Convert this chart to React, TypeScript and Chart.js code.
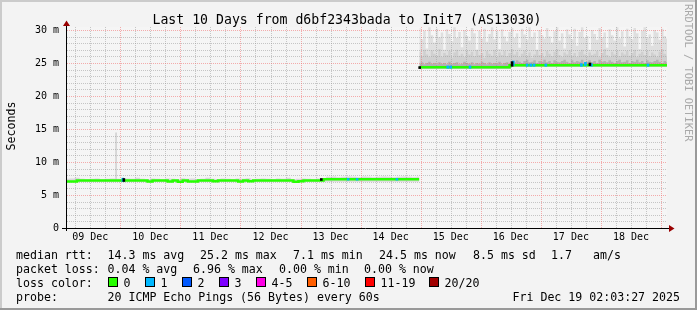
import React, { useEffect, useRef } from "react";
import { Chart, registerables } from "chart.js";

Chart.register(...registerables);

const FONT = '"DejaVu Sans Mono", "Liberation Mono", monospace';

// ---- time grid (hours since 09 Dec 00:00) ----
const X_MIN_H = 2.7;
const X_MAX_H = 242.4;
const EARLY_START_H = 2.7;
const EARLY_STEP_H = 2.01;
const LATE_START_H = 143.5;
const LATE_STEP_H = 1;

// ---- early period (09 Dec – 14 Dec), median rtt in ms ----
const earlyMedian = [
  7.2, 7.05, 7.05, 7.2, 7.2, 7.2, 7.2, 7.2, 7.2, 7.2,
  7.2, 7.2, 7.2, 7.2, 7.2, 7.2, 7.2, 7.05, 7.2, 7.2,
  7.2, 7.05, 7.2, 7.0, 7.2, 7.05, 7.05, 7.2, 7.2, 7.2,
  7.1, 7.2, 7.2, 7.2, 7.2, 7.05, 7.2, 7.1, 7.2, 7.2,
  7.2, 7.2, 7.2, 7.2, 7.2, 7.2, 7.0, 7.1, 7.2, 7.2,
  7.2, 7.2, 7.38, 7.38, 7.38, 7.38, 7.38, 7.38, 7.38, 7.38,
  7.38, 7.38, 7.38, 7.38, 7.38, 7.38, 7.38, 7.38, 7.38, 7.38,
  7.38,
];
const earlySmokeMax = [
  7.45, 7.5, 7.6, 7.45, 7.4, 7.45, 7.5, 7.4, 7.45, 7.5,
  7.45, 7.4, 7.5, 7.45, 7.6, 7.45, 7.4, 7.5, 7.45, 7.4,
  7.5, 7.45, 7.4, 7.55, 7.45, 7.5, 7.4, 7.45, 7.6, 7.45,
  7.4, 7.5, 7.45, 7.4, 7.5, 7.45, 7.55, 7.4, 7.45, 7.5,
  7.45, 7.4, 7.5, 7.45, 7.6, 7.4, 7.45, 7.5, 7.45, 7.4,
  7.5, 7.45, 7.75, 7.8, 7.7, 7.75, 7.8, 7.75, 7.7, 7.8,
  7.75, 7.7, 7.75, 7.8, 7.75, 7.7, 7.75, 7.8, 7.75, 7.7,
  7.75,
];

// ---- late period (14 Dec 23:30 – 19 Dec), ms ----
const lateMedian = [
  24.35, 24.35, 24.35, 24.35, 24.35, 24.35, 24.35, 24.35, 24.35, 24.35,
  24.35, 24.35, 24.35, 24.35, 24.35, 24.35, 24.35, 24.35, 24.35, 24.35,
  24.35, 24.35, 24.35, 24.35, 24.35, 24.35, 24.35, 24.35, 24.35, 24.35,
  24.35, 24.35, 24.35, 24.35, 24.35, 24.35, 24.35, 24.65, 24.65, 24.65,
  24.65, 24.65, 24.65, 24.65, 24.65, 24.65, 24.65, 24.65, 24.65, 24.65,
  24.65, 24.65, 24.65, 24.65, 24.65, 24.65, 24.65, 24.65, 24.65, 24.65,
  24.65, 24.65, 24.65, 24.65, 24.65, 24.65, 24.65, 24.65, 24.65, 24.65,
  24.65, 24.65, 24.65, 24.65, 24.65, 24.65, 24.65, 24.65, 24.65, 24.65,
  24.65, 24.65, 24.65, 24.65, 24.65, 24.65, 24.65, 24.65, 24.65, 24.65,
  24.65, 24.65, 24.65, 24.65, 24.65, 24.65, 24.65, 24.65, 24.65, 24.65,
];
const lateSmokeMin = [
  24.15, 24.15, 24.15, 24.15, 24.15, 24.15, 24.15, 24.15, 24.15, 24.15,
  24.15, 24.15, 24.15, 24.15, 24.15, 24.15, 24.15, 24.15, 24.15, 24.15,
  24.15, 24.15, 24.15, 24.15, 24.15, 24.15, 24.15, 24.15, 24.15, 24.15,
  24.15, 24.15, 24.15, 24.15, 24.15, 24.15, 24.15, 24.45, 24.45, 24.45,
  24.45, 24.45, 24.45, 24.45, 24.45, 24.45, 24.45, 24.45, 24.45, 24.45,
  24.45, 24.45, 24.45, 24.45, 24.45, 24.45, 24.45, 24.45, 24.45, 24.45,
  24.45, 24.45, 24.45, 24.45, 24.45, 24.45, 24.45, 24.45, 24.45, 24.45,
  24.45, 24.45, 24.45, 24.45, 24.45, 24.45, 24.45, 24.45, 24.45, 24.45,
  24.45, 24.45, 24.45, 24.45, 24.45, 24.45, 24.45, 24.45, 24.45, 24.45,
  24.45, 24.45, 24.45, 24.45, 24.45, 24.45, 24.45, 24.45, 24.45, 24.45,
];
const lateSmokeOuter = [
  30.3, 28.6, 29.9, 27.2, 30.4, 29.2, 28.1, 30.2, 28.9, 29.6,
  27.0, 30.1, 29.4, 28.3, 30.4, 28.8, 29.7, 27.4, 30.0, 29.1,
  28.4, 30.3, 29.5, 26.9, 29.9, 28.7, 30.2, 28.2, 29.4, 30.4,
  28.6, 29.8, 27.1, 30.1, 29.0, 28.3, 29.7, 30.3, 28.8, 29.5,
  27.3, 30.2, 29.3, 28.5, 30.4, 28.9, 29.6, 26.8, 30.0, 29.2,
  28.7, 30.3, 29.0, 28.1, 29.8, 30.4, 28.4, 29.5, 27.2, 30.1,
  29.3, 28.6, 30.2, 27.6, 29.7, 30.4, 28.8, 29.1, 27.0, 30.0,
  29.4, 28.5, 30.3, 28.9, 29.6, 27.3, 30.1, 29.2, 28.4, 30.4,
  28.7, 29.8, 27.5, 30.2, 29.0, 28.6, 30.3, 29.5, 27.1, 29.9,
  30.4, 28.8, 29.3, 27.6, 30.0, 29.6, 28.5, 30.2, 29.1, 28.7,
];
const lateSmokeMid = [
  26.7, 26.0, 27.0, 26.3, 25.9, 26.9, 26.4, 26.1, 27.1, 25.9,
  26.5, 26.2, 26.8, 25.8, 26.6, 27.0, 26.1, 26.4, 25.9, 26.9,
  26.3, 26.7, 26.0, 27.0, 26.2, 26.5, 25.8, 26.8, 26.4, 26.1,
  27.0, 25.9, 26.6, 26.2, 26.8, 26.0, 26.5, 27.1, 26.3, 26.7,
  25.9, 26.4, 26.9, 26.1, 26.6, 25.8, 26.3, 27.0, 26.2, 26.5,
  25.9, 26.8, 26.4, 26.0, 26.7, 27.1, 26.2, 25.9, 26.6, 26.3,
  26.9, 26.1, 26.5, 25.9, 26.7, 27.0, 26.3, 26.0, 26.6, 26.2,
  26.4, 26.8, 25.9, 26.5, 27.1, 26.2, 25.9, 26.7, 26.3, 26.9,
  26.0, 26.6, 26.3, 26.8, 26.1, 26.5, 27.0, 25.9, 26.4, 26.7,
  26.2, 26.9, 26.0, 26.6, 26.3, 25.9, 26.7, 27.1, 26.4, 26.1,
];
const lateSmokeInner = [
  24.9, 25.1, 24.8, 25.0, 25.2, 24.9, 25.0, 24.8, 25.1, 24.9,
  25.0, 24.8, 25.2, 24.9, 25.0, 25.1, 24.8, 24.9, 25.2, 25.0,
  24.9, 25.1, 24.8, 25.0, 24.9, 25.2, 25.0, 24.8, 25.1, 24.9,
  25.0, 24.9, 25.2, 24.8, 25.0, 25.1, 24.9, 25.3, 25.1, 25.4,
  25.2, 25.0, 25.3, 25.5, 25.1, 25.2, 25.4, 25.0, 25.3, 25.2,
  25.5, 25.1, 25.3, 25.0, 25.4, 25.2, 25.1, 25.3, 25.5, 25.2,
  25.0, 25.4, 25.1, 25.3, 25.2, 25.5, 25.0, 25.2, 25.4, 25.1,
  25.3, 25.0, 25.5, 25.2, 25.3, 25.1, 25.4, 25.2, 25.0, 25.3,
  25.5, 25.1, 25.2, 25.4, 25.0, 25.3, 25.2, 25.5, 25.1, 25.3,
  25.0, 25.4, 25.2, 25.1, 25.3, 25.5, 25.2, 25.0, 25.3, 25.1,
];

// single-sample outlier
const spikeHours = [22.3];
const spikeLow = [7.35];
const spikeHigh = [14.4];

// samples with packet loss (median coloured by loss count)
const lossHours = [25.0, 115.0, 118.6, 134.5, 154.8, 156.0, 163.7, 181.0, 186.5, 188.0, 189.3, 194.0, 208.2, 209.8, 212.2, 234.8];
const lossCounts = [1, 1, 1, 1, 1, 1, 1, 1, 1, 1, 1, 1, 1, 1, 1, 1];
const lossLow = [7.05, 7.25, 7.25, 7.25, 24.2, 24.2, 24.2, 24.6, 24.5, 24.5, 24.5, 24.5, 24.5, 24.6, 24.5, 24.5];
const lossHigh = [7.55, 7.5, 7.5, 7.5, 24.55, 24.55, 24.55, 25.3, 24.85, 24.85, 24.85, 24.85, 24.9, 25.1, 24.9, 24.85];

// dark step markers
const stepHours = [25.4, 104.3, 143.6, 180.5, 211.6];
const stepLow = [7.05, 7.2, 24.15, 24.5, 24.6];
const stepHigh = [7.5, 7.5, 24.45, 25.2, 25.0];

// ---- axes ----
const xTickHours = [12, 36, 60, 84, 108, 132, 156, 180, 204, 228];
const xTickLabels = ["09 Dec", "10 Dec", "11 Dec", "12 Dec", "13 Dec", "14 Dec", "15 Dec", "16 Dec", "17 Dec", "18 Dec"];
const yTickValues = [0, 5, 10, 15, 20, 25, 30];
const yTickLabels = ["0", "5 m", "10 m", "15 m", "20 m", "25 m", "30 m"];
const Y_MAX = 30.45;

// ---- texts ----
const chartTitle = "Last 10 Days from d6bf2343bada to Init7 (AS13030)";
const yAxisTitle = "Seconds";
const watermark = "RRDTOOL / TOBI OETIKER";
const medianRttLabel = "median rtt:";
const medianRttStats = ["14.3 ms avg", "25.2 ms max", "7.1 ms min", "24.5 ms now", "8.5 ms sd", "1.7", "am/s"];
const packetLossLabel = "packet loss:";
const packetLossStats = ["0.04 % avg", "6.96 % max", "0.00 % min", "0.00 % now"];
const lossColorLabel = "loss color:";
const lossLegendLabels = ["0", "1", "2", "3", "4-5", "6-10", "11-19", "20/20"];
const lossLegendColors = ["#26ff00", "#00b8ff", "#0059ff", "#7e00ff", "#ff00e6", "#ff5e00", "#ff0000", "#a10000"];
const probeLabel = "probe:";
const probeText = "20 ICMP Echo Pings (56 Bytes) every 60s";
const dateText = "Fri Dec 19 02:03:27 2025";

function lossColorIndex(count: number): number {
  if (count <= 3) return count;
  if (count <= 5) return 4;
  if (count <= 10) return 5;
  if (count <= 19) return 6;
  return 7;
}

const GRID_AFTER_INDEX = 5;

const backgroundPlugin = {
  id: "rrdBackground",
  beforeDraw(chart: any) {
    const { ctx, chartArea: a, width, height } = chart;
    ctx.save();
    ctx.fillStyle = "#f3f3f3";
    ctx.fillRect(0, 0, width, height);
    ctx.fillStyle = "#f5f5f5";
    ctx.fillRect(a.left, a.top, a.right - a.left, a.bottom - a.top);
    ctx.fillStyle = "#cbcbcb";
    ctx.fillRect(0, 0, width, 2);
    ctx.fillRect(0, 0, 2, height);
    ctx.fillStyle = "#999999";
    ctx.fillRect(0, height - 2, width, 2);
    ctx.fillRect(width - 2, 0, 2, height);
    ctx.restore();
  },
};

function drawGrid(chart: any) {
  const { ctx, chartArea: a } = chart;
  const xs = chart.scales.x;
  const ys = chart.scales.y;
  ctx.save();
  ctx.lineWidth = 1;
  ctx.setLineDash([1, 1]);
  const vline = (h: number) => {
    const px = Math.round(xs.getPixelForValue(h)) + 0.5;
    if (px <= a.left || px >= a.right) return;
    ctx.beginPath();
    ctx.moveTo(px, a.top);
    ctx.lineTo(px, a.bottom);
    ctx.stroke();
  };
  const hline = (v: number) => {
    const py = Math.round(ys.getPixelForValue(v)) + 0.5;
    ctx.beginPath();
    ctx.moveTo(a.left, py);
    ctx.lineTo(a.right, py);
    ctx.stroke();
  };
  ctx.strokeStyle = "rgba(150,150,150,0.5)";
  for (let h = 6; h < X_MAX_H; h += 6) if (h % 24 !== 0) vline(h);
  for (let v = 1; v <= 30; v++) if (v % 5 !== 0) hline(v);
  ctx.strokeStyle = "rgba(240,110,110,0.55)";
  for (let h = 24; h < X_MAX_H; h += 24) vline(h);
  for (let v = 5; v <= 30; v += 5) hline(v);
  ctx.restore();
}

const gridPlugin = {
  id: "rrdGrid",
  afterDatasetDraw(chart: any, args: any) {
    if (args.index === GRID_AFTER_INDEX) drawGrid(chart);
  },
};

const axesPlugin = {
  id: "rrdAxes",
  afterDatasetsDraw(chart: any) {
    const { ctx, chartArea: a } = chart;
    const y0 = Math.round(chart.scales.y.getPixelForValue(0)) + 0.5;
    const x0 = a.left - 0.5;
    ctx.save();
    ctx.setLineDash([]);
    ctx.strokeStyle = "#000";
    ctx.lineWidth = 1;
    ctx.beginPath();
    ctx.moveTo(62, y0);
    ctx.lineTo(a.right + 2, y0);
    ctx.moveTo(x0, a.bottom + 3);
    ctx.lineTo(x0, a.top - 1);
    ctx.stroke();
    ctx.fillStyle = "#990000";
    ctx.beginPath();
    ctx.moveTo(a.right + 2, y0 - 3.5);
    ctx.lineTo(a.right + 7.5, y0);
    ctx.lineTo(a.right + 2, y0 + 3.5);
    ctx.closePath();
    ctx.fill();
    ctx.beginPath();
    ctx.moveTo(x0 - 3.5, a.top - 1);
    ctx.lineTo(x0, a.top - 6.5);
    ctx.lineTo(x0 + 3.5, a.top - 1);
    ctx.closePath();
    ctx.fill();
    ctx.restore();
  },
};

const textPlugin = {
  id: "rrdTexts",
  afterDraw(chart: any) {
    const ctx = chart.ctx;
    ctx.save();
    ctx.fillStyle = "#000";
    ctx.textBaseline = "alphabetic";
    ctx.font = `13.2px ${FONT}`;
    ctx.textAlign = "center";
    ctx.fillText(chartTitle, 347, 23.5);

    ctx.save();
    ctx.translate(15.2, 126);
    ctx.rotate(-Math.PI / 2);
    ctx.font = `11.6px ${FONT}`;
    ctx.textAlign = "center";
    ctx.fillText(yAxisTitle, 0, 0);
    ctx.restore();

    ctx.save();
    ctx.translate(684.5, 4);
    ctx.rotate(Math.PI / 2);
    ctx.font = `10.4px ${FONT}`;
    ctx.fillStyle = "#a9a9a9";
    ctx.textAlign = "left";
    ctx.fillText(watermark, 0, 0);
    ctx.restore();

    ctx.font = `11.6px ${FONT}`;
    ctx.textAlign = "left";
    const colStart = 16;
    const colValues = 107.5;
    ctx.fillText(medianRttLabel, colStart, 259);
    const rttX = [107.5, 200, 293, 379, 473, 551, 593];
    medianRttStats.forEach((s, i) => ctx.fillText(s, rttX[i], 259));
    ctx.fillText(packetLossLabel, colStart, 273);
    const plX = [107.5, 193, 279, 364];
    packetLossStats.forEach((s, i) => ctx.fillText(s, plX[i], 273));
    ctx.fillText(lossColorLabel, colStart, 287);
    const boxX = [109, 146, 183, 220, 257, 308, 366, 430];
    lossLegendLabels.forEach((s, i) => {
      ctx.fillStyle = lossLegendColors[i];
      ctx.fillRect(boxX[i], 278, 8, 8);
      ctx.strokeStyle = "#000";
      ctx.lineWidth = 1;
      ctx.strokeRect(boxX[i] - 0.5, 277.5, 9, 9);
      ctx.fillStyle = "#000";
      ctx.fillText(s, boxX[i] + 14.5, 287);
    });
    ctx.fillText(probeLabel, colStart, 300.5);
    ctx.fillText(probeText, colValues, 300.5);
    ctx.textAlign = "right";
    ctx.fillText(dateText, 680, 300.5);
    ctx.restore();
  },
};

export default function App() {
  const canvasRef = useRef<HTMLCanvasElement | null>(null);

  useEffect(() => {
    document.body.style.margin = "0";
    const canvas = canvasRef.current;
    if (!canvas) return;

    const earlyX = (i: number) => EARLY_START_H + i * EARLY_STEP_H;
    const lateX = (i: number) => LATE_START_H + i * LATE_STEP_H;
    const band = (arr: number[], xf: (i: number) => number) => arr.map((v, i) => ({ x: xf(i), y: v }));
    const transparent = "rgba(0,0,0,0)";

    const datasets: any[] = [
      {
        type: "line",
        data: band(lateSmokeMin, lateX),
        borderColor: transparent,
        borderWidth: 0,
        pointRadius: 0,
        fill: false,
        stepped: "middle",
        order: 20,
      },
      {
        type: "line",
        data: band(lateSmokeOuter, lateX),
        borderColor: transparent,
        backgroundColor: "#dfdfdf",
        borderWidth: 0,
        pointRadius: 0,
        fill: 0,
        stepped: "middle",
        order: 12,
      },
      {
        type: "line",
        data: band(lateSmokeMid, lateX),
        borderColor: transparent,
        backgroundColor: "#d0d0d0",
        borderWidth: 0,
        pointRadius: 0,
        fill: 0,
        stepped: "middle",
        order: 11,
      },
      {
        type: "line",
        data: band(lateSmokeInner, lateX),
        borderColor: transparent,
        backgroundColor: "#b2b2b2",
        borderWidth: 0,
        pointRadius: 0,
        fill: 0,
        stepped: "middle",
        order: 10,
      },
      {
        type: "line",
        data: band(earlySmokeMax, earlyX),
        borderColor: transparent,
        backgroundColor: "#d8d8d8",
        borderWidth: 0,
        pointRadius: 0,
        fill: { value: 7.0 },
        stepped: "middle",
        order: 9,
      },
      {
        type: "bar",
        data: spikeHours.map((h, i) => ({ x: h, y: [spikeLow[i], spikeHigh[i]] })),
        backgroundColor: "#d2d2d2",
        borderWidth: 0,
        barThickness: 1,
        grouped: false,
        order: 8,
      },
      {
        type: "line",
        data: band(earlyMedian, earlyX),
        borderColor: lossLegendColors[0],
        borderWidth: 2.5,
        pointRadius: 0,
        fill: false,
        stepped: "after",
        order: 4,
      },
      {
        type: "line",
        data: band(lateMedian, lateX),
        borderColor: lossLegendColors[0],
        borderWidth: 2.5,
        pointRadius: 0,
        fill: false,
        stepped: "after",
        order: 4,
      },
      {
        type: "bar",
        data: lossHours.map((h, i) => ({ x: h, y: [lossLow[i], lossHigh[i]] })),
        backgroundColor: lossCounts.map((c) => lossLegendColors[lossColorIndex(c)]),
        borderWidth: 0,
        barThickness: 2,
        grouped: false,
        order: 2,
      },
      {
        type: "bar",
        data: stepHours.map((h, i) => ({ x: h, y: [stepLow[i], stepHigh[i]] })),
        backgroundColor: "#000000",
        borderWidth: 0,
        barThickness: 2,
        grouped: false,
        order: 1,
      },
    ];

    const chart = new Chart(canvas, {
      type: "line",
      data: { datasets },
      options: {
        responsive: false,
        animation: false,
        devicePixelRatio: 1,
        events: [],
        layout: { padding: { left: 0, right: 30, top: 27, bottom: 0 } },
        plugins: {
          legend: { display: false },
          tooltip: { enabled: false },
          title: { display: false },
        },
        scales: {
          x: {
            type: "linear",
            min: X_MIN_H,
            max: X_MAX_H,
            offset: false,
            grid: { display: false, drawTicks: false },
            border: { display: false },
            afterBuildTicks: (s: any) => {
              s.ticks = xTickHours.map((v) => ({ value: v }));
            },
            afterFit: (s: any) => {
              s.height = 82;
            },
            ticks: {
              autoSkip: false,
              maxRotation: 0,
              minRotation: 0,
              padding: 3,
              color: "#000",
              font: { family: FONT, size: 10 },
              callback: (_v: any, i: number) => xTickLabels[i],
            },
          },
          y: {
            type: "linear",
            min: 0,
            max: Y_MAX,
            grid: { display: false, drawTicks: false },
            border: { display: false },
            afterBuildTicks: (s: any) => {
              s.ticks = yTickValues.map((v) => ({ value: v }));
            },
            afterFit: (s: any) => {
              s.width = 67;
            },
            ticks: {
              autoSkip: false,
              padding: 8,
              color: "#000",
              font: { family: FONT, size: 10 },
              callback: (_v: any, i: number) => yTickLabels[i],
            },
          },
        },
      } as any,
      plugins: [backgroundPlugin, gridPlugin, axesPlugin, textPlugin],
    });

    return () => chart.destroy();
  }, []);

  return (
    <canvas
      ref={canvasRef}
      width={697}
      height={310}
      style={{ display: "block", width: 697, height: 310 }}
    />
  );
}
